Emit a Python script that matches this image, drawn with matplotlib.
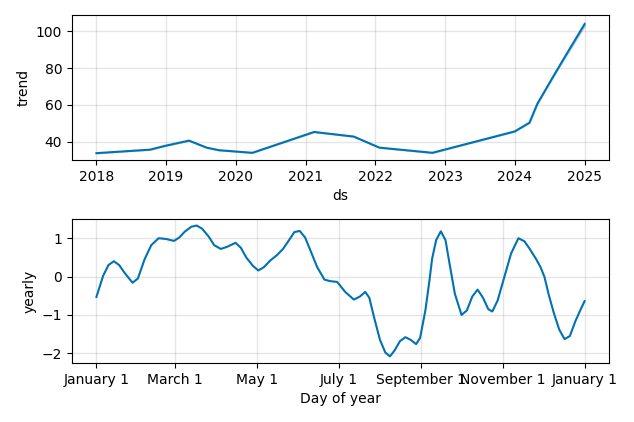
import matplotlib
matplotlib.use('Agg')
from matplotlib import pyplot as plt
import numpy as np
import pandas as pd

# trend component
trend_dates = ['2018-01-01', '2018-10-08', '2019-01-01', '2019-05-01', '2019-08-01',
               '2019-10-05', '2020-03-28', '2021-02-14', '2021-09-10', '2022-01-22',
               '2022-10-27', '2024-01-01', '2024-03-18', '2024-04-28', '2024-07-24',
               '2024-10-01', '2025-01-01']
trend_vals = [33.8, 35.7, 37.9, 40.6, 36.8,
              35.4, 34.0, 45.3, 42.8, 36.8,
              34.0, 45.6, 50.3, 60.5, 76.0,
              88.0, 103.8]
# uncertainty band, only visible near the end
trend_lower = [33.7, 35.6, 37.8, 40.5, 36.7,
               35.3, 33.9, 45.2, 42.7, 36.7,
               33.9, 45.5, 50.2, 60.3, 75.6,
               87.3, 102.6]
trend_upper = [33.9, 35.8, 38.0, 40.7, 36.9,
               35.5, 34.1, 45.4, 42.9, 36.9,
               34.1, 45.7, 50.4, 60.7, 76.4,
               88.7, 105.2]

# yearly seasonality: day of year -> value
yearly_days = [0, 5, 9, 13, 17, 21, 27, 31, 36, 41, 46.5, 52, 58, 62, 66, 71, 75, 79, 84,
               88, 93, 98, 104, 108, 112, 117, 121, 125, 130, 135, 139.5, 144, 148, 152,
               156, 160, 165, 170.5, 175, 180, 186, 192.5, 197, 201, 204, 208, 212, 216,
               219.5, 223, 227, 231, 235, 239, 242, 246, 249, 251, 254, 257.5, 261, 264,
               268, 273, 277, 281, 285, 289, 293, 296, 300, 305, 310, 315.5, 320, 324,
               328.5, 332, 335, 338, 342, 346, 350, 354, 358, 362, 365]
yearly_vals = [-0.53, 0.02, 0.30, 0.40, 0.30, 0.10, -0.16, -0.05, 0.45, 0.82, 1.0, 0.98,
               0.93, 1.02, 1.17, 1.30, 1.33, 1.25, 1.04, 0.82, 0.72, 0.78, 0.88, 0.75,
               0.50, 0.28, 0.16, 0.24, 0.42, 0.56, 0.72, 0.95, 1.16, 1.19, 1.02, 0.68,
               0.25, -0.08, -0.12, -0.14, -0.40, -0.60, -0.52, -0.40, -0.55, -1.12,
               -1.65, -1.98, -2.08, -1.92, -1.68, -1.58, -1.65, -1.76, -1.60, -0.87,
               -0.10, 0.47, 0.95, 1.18, 0.95, 0.34, -0.45, -1.0, -0.88, -0.52, -0.34,
               -0.55, -0.85, -0.91, -0.62, -0.01, 0.60, 1.0, 0.92, 0.72, 0.47, 0.25,
               -0.01, -0.45, -0.95, -1.38, -1.63, -1.55, -1.17, -0.86, -0.64]

month_ticks = [0, 59, 120, 181, 243, 304, 365]
month_labels = ['January 1', 'March 1', 'May 1', 'July 1', 'September 1',
                'November 1', 'January 1']

col = '#0072B2'

fig = plt.figure(figsize=(6.34, 4.22), dpi=100)
ax1 = fig.add_axes([0.1136, 0.621, 0.847, 0.3435])
ax2 = fig.add_axes([0.1136, 0.140, 0.847, 0.341])

td = pd.to_datetime(trend_dates)
ax1.plot(td, trend_vals, ls='-', c=col)
ax1.fill_between(td, trend_lower, trend_upper, color=col, alpha=0.2)
ax1.grid(True, which='major', c='gray', ls='-', lw=1, alpha=0.2)
ax1.set_xlabel('ds')
ax1.set_ylabel('trend')

ax2.plot(yearly_days, yearly_vals, ls='-', c=col)
ax2.set_xticks(month_ticks)
ax2.set_xticklabels(month_labels)
ax2.grid(True, which='major', c='gray', ls='-', lw=1, alpha=0.2)
ax2.set_xlabel('Day of year')
ax2.set_ylabel('yearly')

fig.savefig('out.png', dpi=100)
